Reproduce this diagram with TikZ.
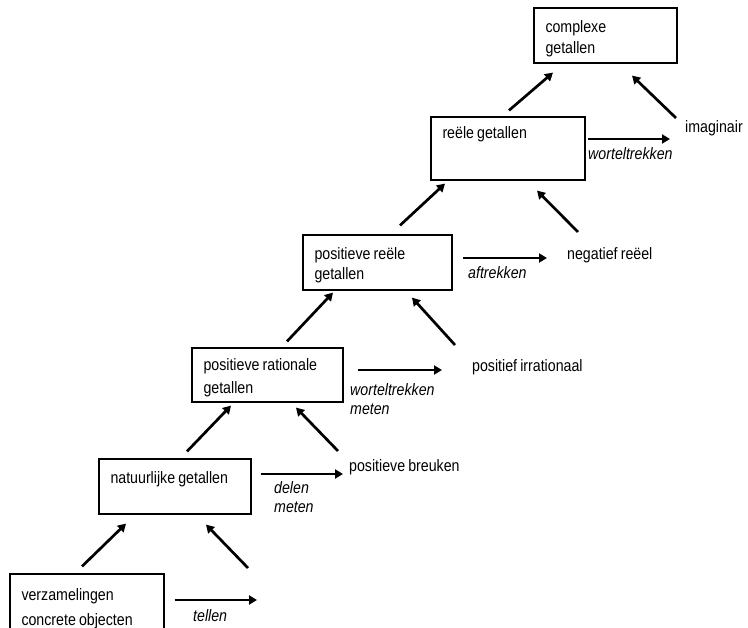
\documentclass[tikz,border=0pt]{standalone}
\usepackage{fontspec}
\setmainfont{Liberation Sans}[FakeStretch=0.86,WordSpace=0.8]
\usetikzlibrary{arrows.meta}
\newcommand\bxtext[1]{\spaceskip=0pt\xspaceskip=0pt\strut\\[-16pt]#1}
\begin{document}
\begin{tikzpicture}[x=1pt,y=-1pt,
  box/.style={draw, line width=1.2pt, rectangle, inner xsep=11.5pt, inner ysep=0pt, align=left, anchor=center, font=\fontsize{16.5}{22}\selectfont},
  lbl/.style={anchor=west, inner sep=0pt, text height=12pt, text depth=3.5pt, font=\fontsize{16.5}{22}\selectfont},
  op/.style={anchor=west, inner sep=0pt, align=left, font=\fontsize{16.5}{19}\selectfont\itshape},
  arr/.style={line width=2.7pt, -{Triangle[length=8pt,width=9pt]}}]
\clip (0,0) rectangle (748,628);
% boxes
\node[box, minimum width=154pt, minimum height=63pt, text width=131pt] (b1) at (87,605.5) {\bxtext{verzamelingen\strut\\[3pt]concrete objecten\strut}};
\node[box, minimum width=152pt, minimum height=55pt, text width=129pt] (b2) at (175,486.5) {\bxtext{natuurlijke getallen\strut\\[-2pt]\strut}};
\node[box, minimum width=151pt, minimum height=54pt, text width=128pt] (b3) at (267.5,375) {\bxtext{positieve rationale\strut\\[1pt]getallen\strut}};
\node[box, minimum width=149pt, minimum height=55pt, text width=126pt] (b4) at (377.5,262.5) {\bxtext{positieve reële\strut\\[-2pt]getallen\strut}};
\node[box, minimum width=154pt, minimum height=53pt, text width=131pt] (b5) at (508,148.5) {\bxtext{reële getallen\strut\\[13pt]\strut}};
\node[box, minimum width=143pt, minimum height=55pt, text width=120pt] (b6) at (605.5,35.5) {\bxtext{complexe\strut\\[-1pt]getallen\strut}};
% side labels
\node[lbl] (pb) at (349,467) {positieve breuken};
\node[lbl] (pi) at (472,367) {positief irrationaal};
\node[lbl] (nr) at (567,255) {negatief reëel};
\node[lbl] (im) at (685,128) {imaginair};
% operation labels
\node[op] (o1) at (193,618) {tellen\strut};
\node[op] (o2) at (274,499) {delen\strut\\meten\strut};
\node[op] (o3) at (350,401) {worteltrekken\strut\\meten\strut};
\node[op] (o4) at (468,275) {aftrekken\strut};
\node[op] (o5) at (588,156) {worteltrekken\strut};
% free ends
\coordinate (t1) at (257,600);
\coordinate (u1) at (248,568);
% horizontal arrows
\draw[arr] ([shift={(10,-5.5)}]b1.east) -- (t1);
\draw[arr] ([shift={(9,-12.5)}]b2.east) -- ([shift={(-6,7)}]pb.west);
\draw[arr] ([shift={(14,-5)}]b3.east) -- ([shift={(-30,3)}]pi.west);
\draw[arr] ([shift={(10,-4.5)}]b4.east) -- ([shift={(-20,3)}]nr.west);
\draw[arr] ([shift={(2,-9.5)}]b5.east) -- ([shift={(-15,11)}]im.west);
% diagonal arrows
\draw[arr] ([shift={(-5,-7)}]b1.north) -- ([shift={(-49,9)}]b2.south);
\draw[arr] (u1) -- ([shift={(31,10)}]b2.south);
\draw[arr] ([shift={(12,-7)}]b2.north) -- ([shift={(-36.5,3)}]b3.south);
\draw[arr] ([shift={(-11,-16)}]pb.west) -- ([shift={(28.5,5)}]b3.south);
\draw[arr] ([shift={(19.5,-6)}]b3.north) -- ([shift={(-44.5,2)}]b4.south);
\draw[arr] ([shift={(-17,-22)}]pi.west) -- ([shift={(34.5,7)}]b4.south);
\draw[arr] ([shift={(22.5,-9)}]b4.north) -- ([shift={(-63,3)}]b5.south);
\draw[arr] ([shift={(11,-23)}]nr.west) -- ([shift={(29,10)}]b5.south);
\draw[arr] ([shift={(1,-6)}]b5.north) -- ([shift={(-52.5,9)}]b6.south);
\draw[arr] ([shift={(-9,-10)}]im.west) -- ([shift={(26.5,12)}]b6.south);
\end{tikzpicture}
\end{document}
